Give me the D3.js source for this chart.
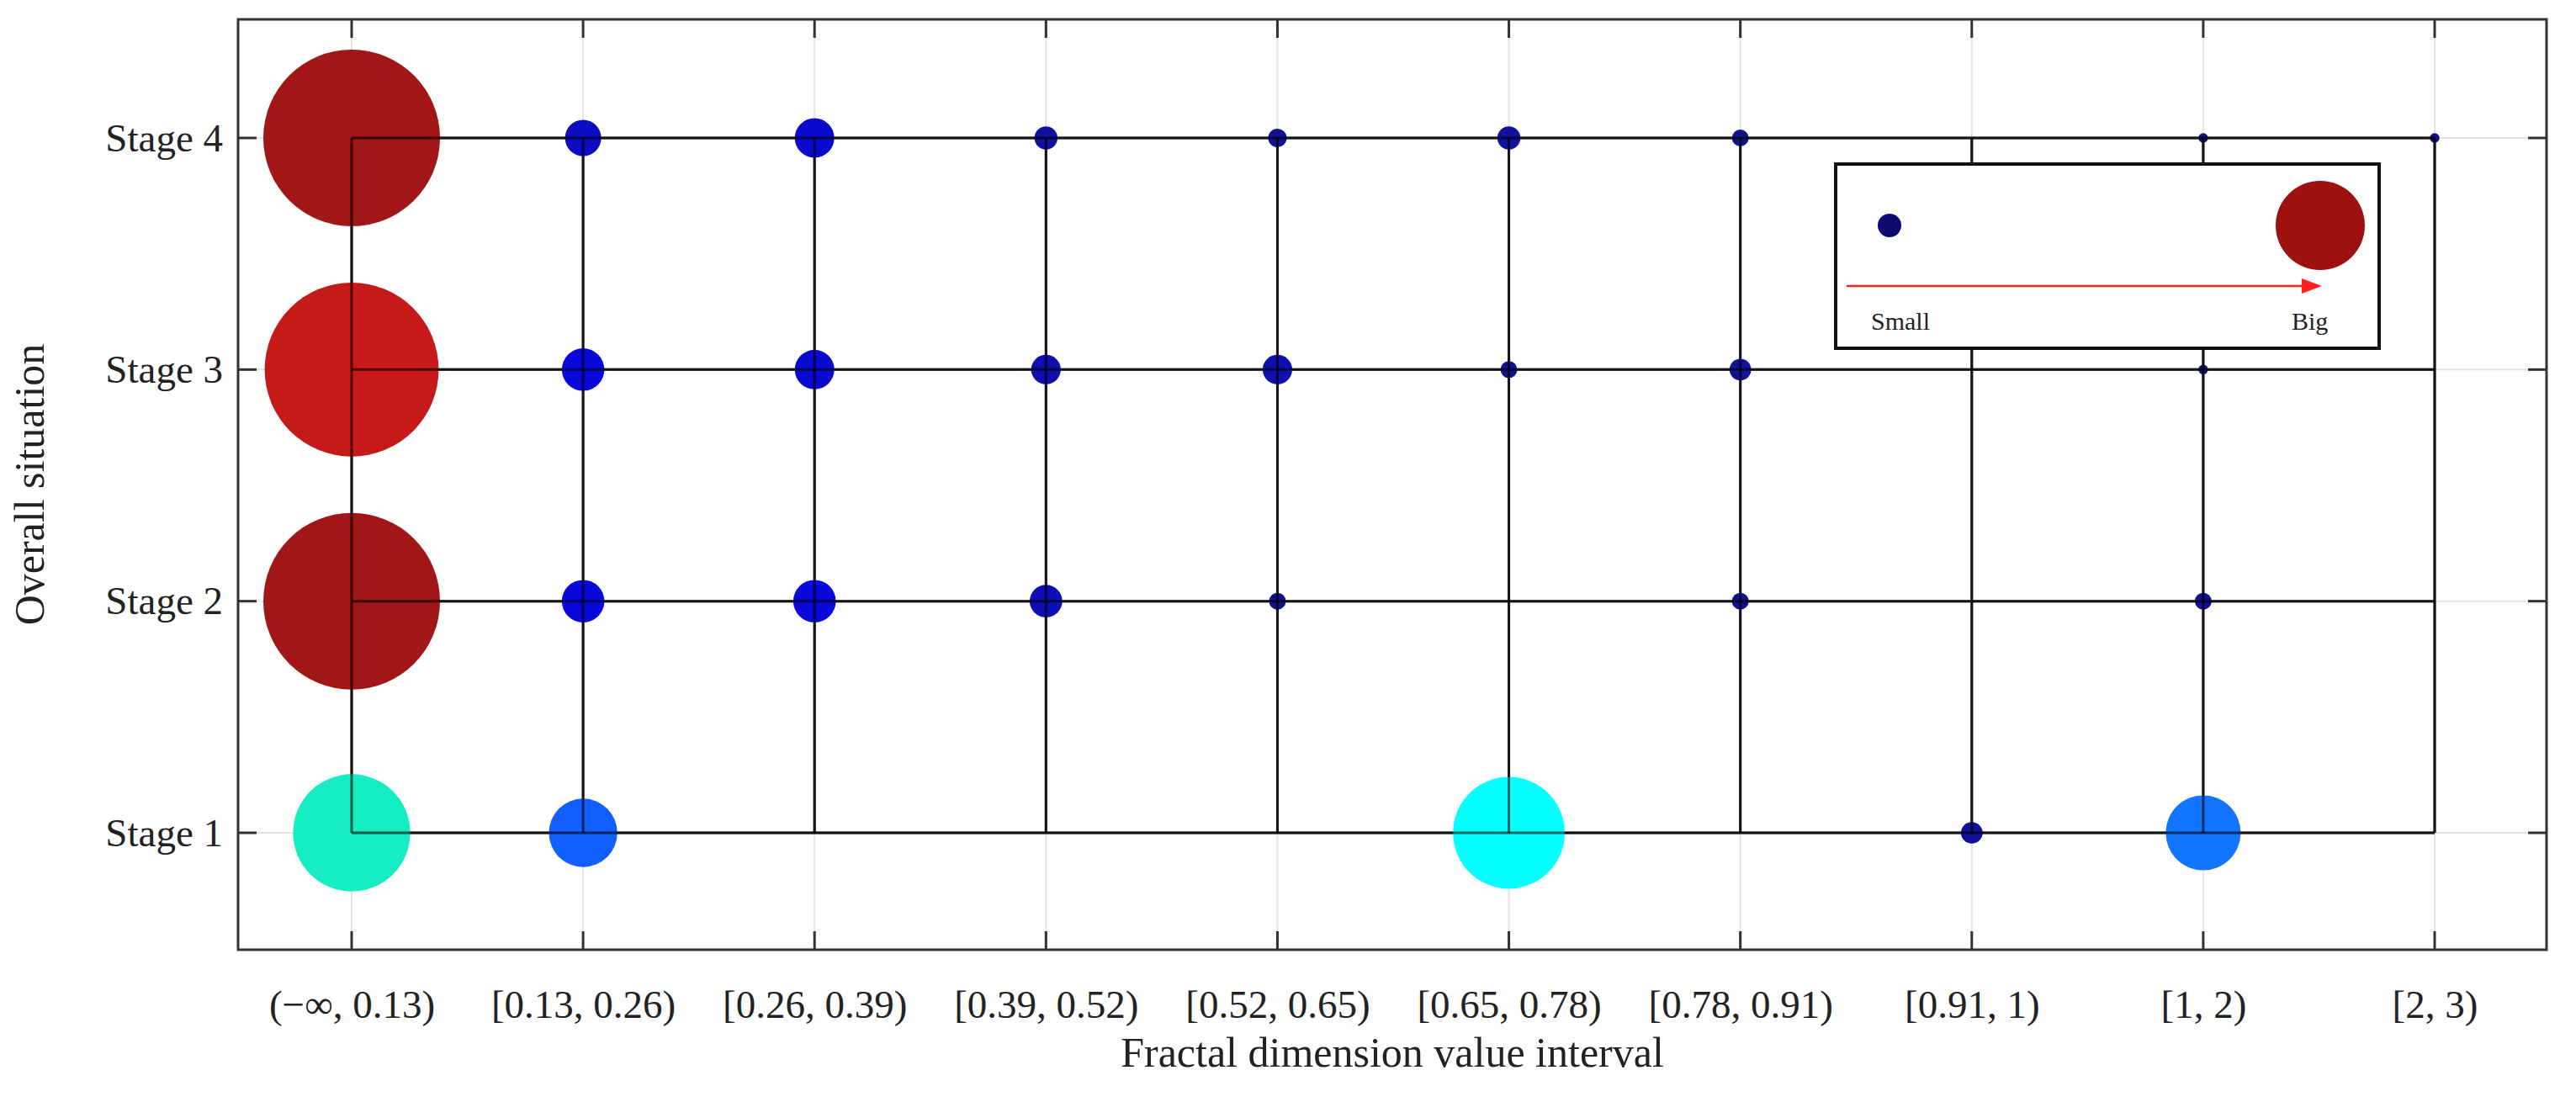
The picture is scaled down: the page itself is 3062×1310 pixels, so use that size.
<!DOCTYPE html>
<html><head><meta charset="utf-8">
<script src="https://cdn.jsdelivr.net/npm/d3@7"></script>
<style>body{margin:0;background:#fff}text{font-family:"Liberation Serif","Times New Roman",serif;fill:#222}</style>
</head><body><svg id="c" width="3062" height="1310"></svg>
<script>
const intervals = ["(\u2212\u221e, 0.13)","[0.13, 0.26)","[0.26, 0.39)","[0.39, 0.52)","[0.52, 0.65)","[0.65, 0.78)","[0.78, 0.91)","[0.91, 1)","[1, 2)","[2, 3)"];
const stages = ["Stage 1","Stage 2","Stage 3","Stage 4"];
// values per stage across intervals (0 = no bubble)
const stage1 = [44, 15, 0, 0, 0, 40, 0, 1.5, 0, 0].map((v,i)=> i===8 ? 18 : v);
const stage2 = [100, 5.8, 5.8, 3.4, 0.9, 0, 0.9, 0, 0.9, 0];
const stage3 = [97, 5.8, 5, 2.8, 2.8, 0.9, 1.5, 0, 0.3, 0];
const stage4 = [100, 4.2, 5, 1.7, 1.1, 1.7, 0.9, 0, 0.3, 0.3];
const seriesByStage = [stage1, stage2, stage3, stage4];

const svg = d3.select("#c");
const L=283,R=3027,T=23,B=1129;
const x = d3.scalePoint().domain(intervals).range([418,2894]);
const y = d3.scalePoint().domain(stages).range([990,164]);
const r = d3.scaleSqrt().domain([0,100]).range([0,105]);
const col = d3.scaleLinear().domain([0,1.5,6,16,40,44,97,100])
  .range(["#0a0a70","#0a0a96","#0000dd","#0a64ff","#00ffff","#10ecc0","#c41212","#9e1010"]);

// light grid
svg.append("g").selectAll("line").data(intervals).join("line")
  .attr("x1",d=>x(d)).attr("x2",d=>x(d)).attr("y1",T).attr("y2",B).attr("stroke","#e4e4e4").attr("stroke-width",2);
svg.append("g").selectAll("line").data(stages).join("line")
  .attr("y1",d=>y(d)).attr("y2",d=>y(d)).attr("x1",L).attr("x2",R).attr("stroke","#e4e4e4").attr("stroke-width",2);
// black mesh
svg.append("g").selectAll("line").data(intervals).join("line")
  .attr("x1",d=>x(d)).attr("x2",d=>x(d)).attr("y1",y("Stage 4")).attr("y2",y("Stage 1")).attr("stroke","#333").attr("stroke-width",3);
svg.append("g").selectAll("line").data(stages).join("line")
  .attr("y1",d=>y(d)).attr("y2",d=>y(d)).attr("x1",x(intervals[0])).attr("x2",x(intervals[9])).attr("stroke","#333").attr("stroke-width",3);

// bubbles
const pts=[];
seriesByStage.forEach((arr,si)=>arr.forEach((v,ci)=>{ if(v>0) pts.push({s:stages[si],c:intervals[ci],v}); }));
svg.append("g").selectAll("circle").data(pts).join("circle")
  .attr("cx",d=>x(d.c)).attr("cy",d=>y(d.s)).attr("r",d=>r(d.v))
  .attr("fill",d=>col(d.v)).attr("fill-opacity",0.97);
// redraw mesh lines faintly over bubbles (matlab shows lines over bubbles)
svg.append("g").selectAll("line").data(intervals).join("line")
  .attr("x1",d=>x(d)).attr("x2",d=>x(d)).attr("y1",y("Stage 4")).attr("y2",y("Stage 1")).attr("stroke","#000").attr("stroke-opacity",0.6).attr("stroke-width",3);
svg.append("g").selectAll("line").data(stages).join("line")
  .attr("y1",d=>y(d)).attr("y2",d=>y(d)).attr("x1",x(intervals[0])).attr("x2",x(intervals[9])).attr("stroke","#000").attr("stroke-opacity",0.6).attr("stroke-width",3);

// box
svg.append("rect").attr("x",L).attr("y",T).attr("width",R-L).attr("height",B-T).attr("fill","none").attr("stroke","#333").attr("stroke-width",3);
// ticks (inside, all four sides)
const tk=22;
intervals.forEach(d=>{
  svg.append("line").attr("x1",x(d)).attr("x2",x(d)).attr("y1",B).attr("y2",B-tk).attr("stroke","#333").attr("stroke-width",3);
  svg.append("line").attr("x1",x(d)).attr("x2",x(d)).attr("y1",T).attr("y2",T+tk).attr("stroke","#333").attr("stroke-width",3);
});
stages.forEach(d=>{
  svg.append("line").attr("y1",y(d)).attr("y2",y(d)).attr("x1",L).attr("x2",L+tk).attr("stroke","#333").attr("stroke-width",3);
  svg.append("line").attr("y1",y(d)).attr("y2",y(d)).attr("x1",R).attr("x2",R-tk).attr("stroke","#333").attr("stroke-width",3);
});
// axes labels
const xa = d3.axisBottom(x).tickSize(0).tickPadding(0);
svg.append("g").attr("transform",`translate(0,${B+48})`).call(xa)
  .call(g=>g.select(".domain").remove())
  .selectAll("text").attr("font-size",47).attr("fill","#222").style("font-family","Liberation Serif");
const ya = d3.axisLeft(y).tickSize(0).tickPadding(0);
svg.append("g").attr("transform",`translate(${L-18},0)`).call(ya)
  .call(g=>g.select(".domain").remove())
  .selectAll("text").attr("font-size",47).attr("fill","#222").style("font-family","Liberation Serif");
svg.append("text").attr("x",(L+R)/2).attr("y",1268).attr("text-anchor","middle").attr("font-size",50).text("Fractal dimension value interval");
svg.append("text").attr("transform",`translate(52,${(T+B)/2}) rotate(-90)`).attr("text-anchor","middle").attr("font-size",50).text("Overall situation");

// legend
const lg = svg.append("g");
lg.append("rect").attr("x",2182).attr("y",195).attr("width",646).attr("height",219).attr("fill","#fff").attr("stroke","#111").attr("stroke-width",4);
lg.append("circle").attr("cx",2246).attr("cy",268).attr("r",14).attr("fill","#0a0a70");
lg.append("circle").attr("cx",2758).attr("cy",268).attr("r",53).attr("fill","#9e1010");
lg.append("line").attr("x1",2195).attr("x2",2740).attr("y1",340).attr("y2",340).attr("stroke","#ff2020").attr("stroke-width",2.5);
lg.append("path").attr("d","M2760,340 L2736,331 L2736,349 Z").attr("fill","#ff2020");
lg.append("text").attr("x",2224).attr("y",392).attr("font-size",30).text("Small");
lg.append("text").attr("x",2724).attr("y",392).attr("font-size",30).text("Big");
</script></body></html>
